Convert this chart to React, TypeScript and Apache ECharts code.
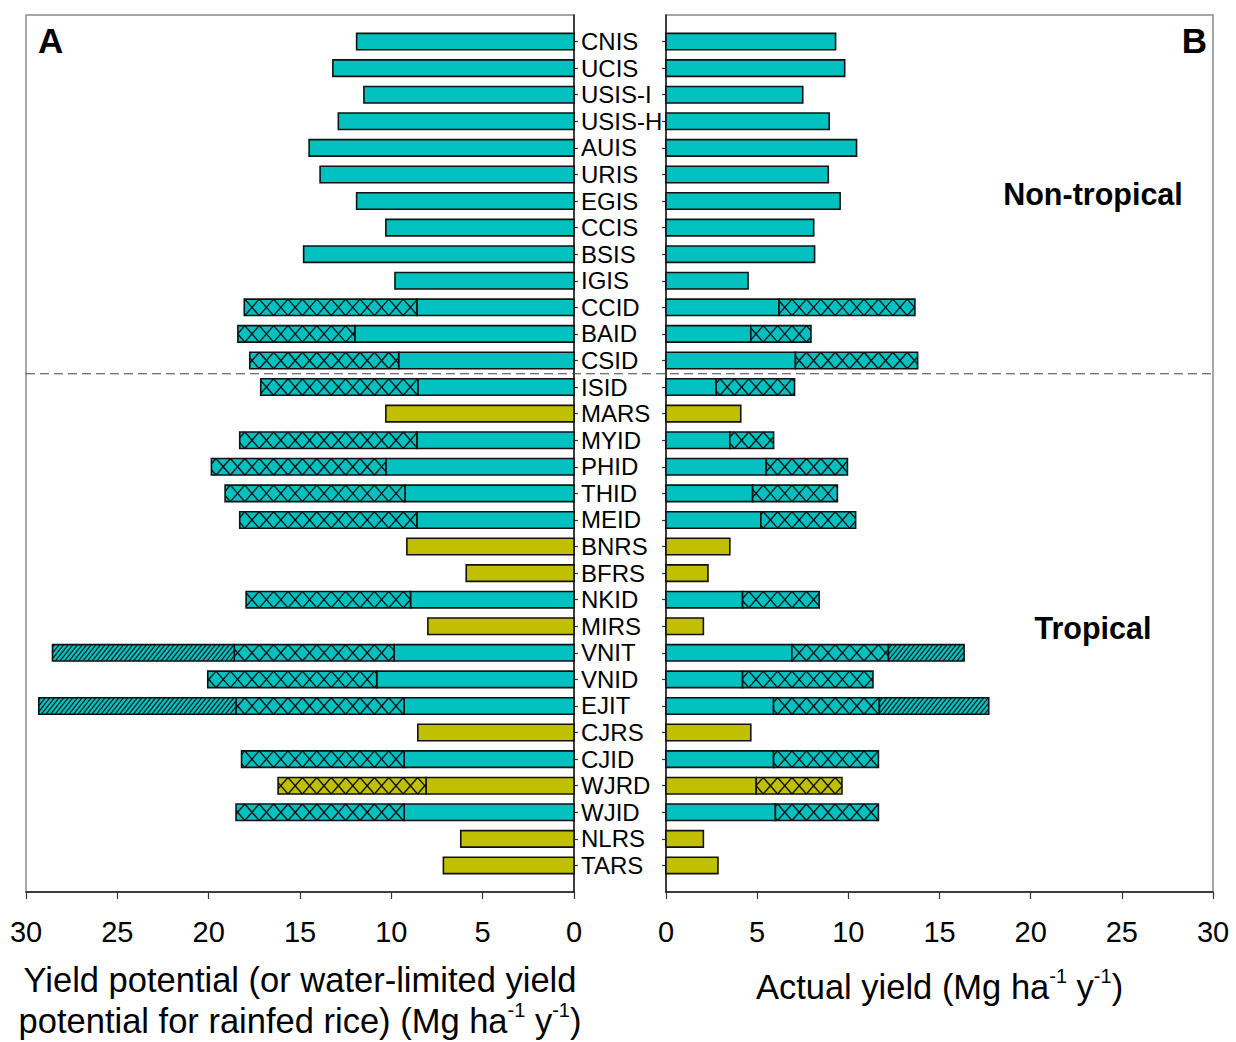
import React, { useEffect, useRef } from 'react';
import * as echarts from 'echarts';

// ---------------- DATA ----------------
const categories = [
  'CNIS', 'UCIS', 'USIS-I', 'USIS-H', 'AUIS', 'URIS', 'EGIS', 'CCIS', 'BSIS', 'IGIS',
  'CCID', 'BAID', 'CSID', 'ISID', 'MARS', 'MYID', 'PHID', 'THID', 'MEID', 'BNRS',
  'BFRS', 'NKID', 'MIRS', 'VNIT', 'VNID', 'EJIT', 'CJRS', 'CJID', 'WJRD', 'WJID',
  'NLRS', 'TARS',
];
const rainfed = ['MARS', 'BNRS', 'BFRS', 'MIRS', 'CJRS', 'WJRD', 'NLRS', 'TARS'];

// Yield potential (panel A), per season
const ypSeason1 = [
  11.9, 13.2, 11.5, 12.9, 14.5, 13.9, 11.9, 10.3, 14.8, 9.8,
  8.6, 12.0, 9.6, 8.55, 10.3, 8.6, 10.3, 9.25, 8.6, 9.15,
  5.9, 8.95, 8.0, 9.85, 10.8, 9.3, 8.55, 9.3, 8.1, 9.3,
  6.2, 7.15,
];
const ypSeason2 = [
  0, 0, 0, 0, 0, 0, 0, 0, 0, 0,
  9.45, 6.4, 8.15, 8.6, 0, 9.7, 9.55, 9.85, 9.7, 0,
  0, 9.0, 0, 8.75, 9.25, 9.2, 0, 8.9, 8.1, 9.2,
  0, 0,
];
const ypSeason3 = [
  0, 0, 0, 0, 0, 0, 0, 0, 0, 0,
  0, 0, 0, 0, 0, 0, 0, 0, 0, 0,
  0, 0, 0, 9.95, 0, 10.8, 0, 0, 0, 0,
  0, 0,
];

// Actual yield (panel B), per season
const yaSeason1 = [
  9.3, 9.8, 7.5, 8.95, 10.45, 8.9, 9.55, 8.1, 8.15, 4.5,
  6.2, 4.65, 7.1, 2.75, 4.1, 3.5, 5.5, 4.75, 5.2, 3.5,
  2.3, 4.2, 2.05, 6.9, 4.2, 5.9, 4.65, 5.9, 4.95, 6.0,
  2.05, 2.85,
];
const yaSeason2 = [
  0, 0, 0, 0, 0, 0, 0, 0, 0, 0,
  7.45, 3.3, 6.7, 4.3, 0, 2.4, 4.45, 4.65, 5.2, 0,
  0, 4.2, 0, 5.3, 7.15, 5.8, 0, 5.75, 4.7, 5.65,
  0, 0,
];
const yaSeason3 = [
  0, 0, 0, 0, 0, 0, 0, 0, 0, 0,
  0, 0, 0, 0, 0, 0, 0, 0, 0, 0,
  0, 0, 0, 4.15, 0, 6.0, 0, 0, 0, 0,
  0, 0,
];

const xTicks = { min: 0, max: 30, interval: 5 };
const groupLabels = ['Non-tropical', 'Tropical'];
const panelLabels = ['A', 'B'];
const separatorAfter = 'CSID';

// ---------------- STYLE / LAYOUT ----------------
const FONT = "'Liberation Sans', Arial, Helvetica, sans-serif";
const TEAL = '#00c0c0';
const OLIVE = '#c0c000';
const GRID_TOP = 15;
const GRID_H = 877;
const LEFT_GRID = { left: 26, width: 548 };
const RIGHT_GRID = { left: 666, width: 547 };
const yCats = ['', ...categories, ''];

function buildSegments(s1: number[], s2: number[], s3: number[]) {
  const out: number[][] = [];
  categories.forEach((c, i) => {
    const rf = rainfed.includes(c) ? 1 : 0;
    let start = 0;
    [s1[i], s2[i], s3[i]].forEach((v, s) => {
      if (v > 0) {
        out.push([i + 1, start, start + v, s, rf]);
        start += v;
      }
    });
  });
  return out;
}

function clipSeg(x1: number, y1: number, x2: number, y2: number, left: number, right: number) {
  if (x2 <= left || x1 >= right) return null;
  const dx = x2 - x1;
  const t0 = Math.max(0, (left - x1) / dx);
  const t1 = Math.min(1, (right - x1) / dx);
  if (t1 <= t0) return null;
  return {
    x1: x1 + t0 * dx, y1: y1 + t0 * (y2 - y1),
    x2: x1 + t1 * dx, y2: y1 + t1 * (y2 - y1),
  };
}

function hatch(left: number, right: number, top: number, bottom: number, kind: number) {
  const lines: any[] = [];
  const h = bottom - top;
  if (kind === 1) {
    const P = 14.4;
    for (let c = Math.floor((left - P) / P) * P; c <= right; c += P) {
      const a = clipSeg(c, bottom, c + P, top, left, right);
      const b = clipSeg(c, top, c + P, bottom, left, right);
      [a, b].forEach((s) => {
        if (s) lines.push({ type: 'line', shape: s, style: { stroke: '#111', lineWidth: 1.35 } });
      });
    }
  } else if (kind === 2) {
    const S = 4.6;
    const ext = h * 0.8;
    for (let c = Math.floor((left - ext) / S) * S; c <= right; c += S) {
      const a = clipSeg(c, bottom, c + ext, top, left, right);
      if (a) lines.push({ type: 'line', shape: a, style: { stroke: '#111', lineWidth: 1.15 } });
    }
  }
  return lines;
}

function renderItem(params: any, api: any) {
  const y = api.value(0);
  const x0 = api.value(1);
  const x1 = api.value(2);
  const season = api.value(3);
  const rf = api.value(4);
  const p0 = api.coord([x0, y]);
  const p1 = api.coord([x1, y]);
  const band = api.size([0, 1])[1];
  const h = band * 0.62;
  const left = Math.min(p0[0], p1[0]);
  const right = Math.max(p0[0], p1[0]);
  const top = p0[1] - h / 2;
  const bottom = p0[1] + h / 2;
  const fill = rf ? OLIVE : TEAL;
  return {
    type: 'group',
    children: [
      { type: 'rect', shape: { x: left, y: top, width: right - left, height: h }, style: { fill, stroke: 'none' } },
      ...hatch(left, right, top, bottom, season),
      {
        type: 'rect',
        shape: { x: left, y: top, width: right - left, height: h },
        style: { fill: 'none', stroke: '#111', lineWidth: 1.6 },
      },
    ],
  };
}

const axisLineStyle = { color: '#1a1a1a', width: 1.5 };

function xAxisCfg(gridIndex: number, inverse: boolean, name: string, nameGap: number) {
  return {
    type: 'value',
    gridIndex,
    inverse,
    min: xTicks.min,
    max: xTicks.max,
    interval: xTicks.interval,
    position: 'bottom',
    axisLine: { show: true, onZero: false, lineStyle: axisLineStyle },
    axisTick: { show: true, inside: false, length: 7, lineStyle: { color: '#333', width: 1.2 } },
    axisLabel: { fontSize: 29, margin: 25, color: '#000', fontFamily: FONT },
    splitLine: { show: false },
    name,
    nameLocation: 'middle',
    nameGap,
    nameTextStyle: {
      fontSize: 34.5,
      color: '#000',
      fontFamily: FONT,
      lineHeight: 41,
      rich: {
        sup: { fontSize: 20, fontFamily: FONT, color: '#000', verticalAlign: 'top', lineHeight: 30 },
      },
    },
  };
}

function yAxisCfg(gridIndex: number, position: string, showLabels: boolean) {
  return {
    type: 'category',
    gridIndex,
    data: yCats,
    inverse: true,
    boundaryGap: false,
    position,
    axisLine: { show: true, onZero: false, lineStyle: axisLineStyle },
    axisTick: {
      show: true,
      inside: false,
      length: 4,
      interval: (idx: number) => idx > 0 && idx < yCats.length - 1,
      lineStyle: { color: '#333', width: 1.2 },
    },
    axisLabel: {
      show: showLabels,
      interval: 0,
      margin: 7,
      fontSize: 24,
      color: '#000',
      fontFamily: FONT,
    },
    splitLine: { show: false },
  };
}

export default function App() {
  const ref = useRef<HTMLDivElement>(null);
  useEffect(() => {
    if (!ref.current) return;
    const chart = echarts.init(ref.current, null, { renderer: 'svg' });
    const band = GRID_H / (yCats.length - 1);
    const sepY = GRID_TOP + (categories.indexOf(separatorAfter) + 1.5) * band;
    const gridBase = { top: GRID_TOP, height: GRID_H, show: true, borderColor: '#8a8a8a', borderWidth: 1.5, containLabel: false, outerBoundsMode: 'none' };
    const option: any = {
      animation: false,
      backgroundColor: '#fff',
      grid: [
        { ...gridBase, left: LEFT_GRID.left, width: LEFT_GRID.width },
        { ...gridBase, left: RIGHT_GRID.left, width: RIGHT_GRID.width },
      ],
      xAxis: [
        xAxisCfg(0, true, 'Yield potential (or water-limited yield\npotential for rainfed rice) (Mg ha{sup|-1} y{sup|-1})', 67),
        xAxisCfg(1, false, 'Actual yield (Mg ha{sup|-1} y{sup|-1})', 74),
      ],
      yAxis: [yAxisCfg(0, 'right', true), yAxisCfg(1, 'left', false)],
      series: [
        {
          type: 'custom',
          xAxisIndex: 0,
          yAxisIndex: 0,
          renderItem,
          encode: { x: [1, 2], y: 0 },
          data: buildSegments(ypSeason1, ypSeason2, ypSeason3),
          clip: false,
        },
        {
          type: 'custom',
          xAxisIndex: 1,
          yAxisIndex: 1,
          renderItem,
          encode: { x: [1, 2], y: 0 },
          data: buildSegments(yaSeason1, yaSeason2, yaSeason3),
          clip: false,
        },
      ],
      graphic: [
        {
          type: 'line',
          shape: { x1: LEFT_GRID.left, y1: sepY, x2: RIGHT_GRID.left + RIGHT_GRID.width, y2: sepY },
          style: { stroke: '#444', lineWidth: 1.2, lineDash: [9, 5] },
          z: 10,
        },
        {
          type: 'text', x: 38, y: 40,
          style: { text: panelLabels[0], font: `bold 35px ${FONT}`, fill: '#000', textAlign: 'left', textVerticalAlign: 'middle' },
        },
        {
          type: 'text', x: 1207, y: 40,
          style: { text: panelLabels[1], font: `bold 35px ${FONT}`, fill: '#000', textAlign: 'right', textVerticalAlign: 'middle' },
        },
        {
          type: 'text', x: 1093, y: 194,
          style: { text: groupLabels[0], font: `bold 30.5px ${FONT}`, fill: '#000', textAlign: 'center', textVerticalAlign: 'middle' },
        },
        {
          type: 'text', x: 1093, y: 628,
          style: { text: groupLabels[1], font: `bold 30.5px ${FONT}`, fill: '#000', textAlign: 'center', textVerticalAlign: 'middle' },
        },
      ],
    };
    chart.setOption(option);
    return () => chart.dispose();
  }, []);
  return <div ref={ref} style={{ position: 'absolute', left: 0, top: 0, width: 1236, height: 1042 }} />;
}
